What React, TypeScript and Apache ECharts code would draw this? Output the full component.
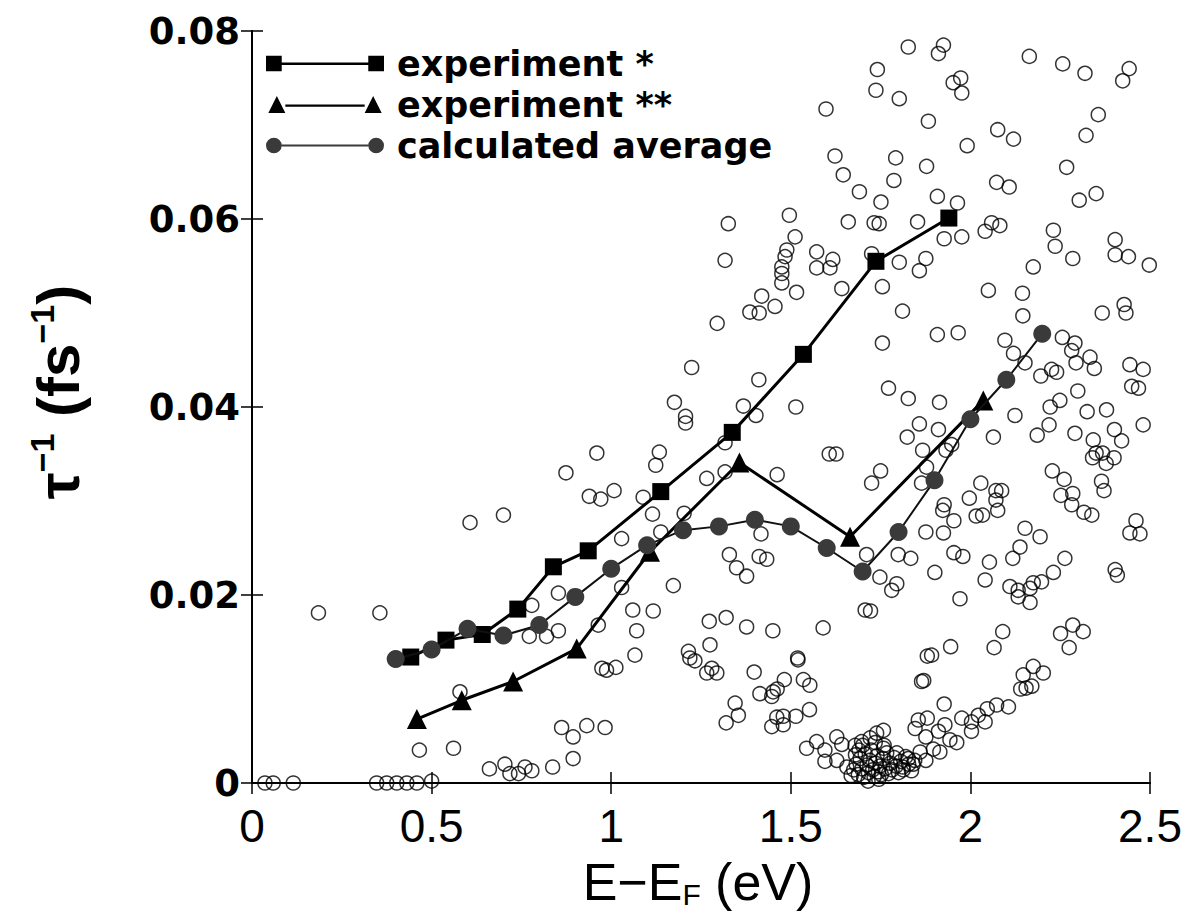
import React, { useEffect, useRef } from "react";
import * as echarts from "echarts";

// experiment * (squares)
const expOneX = [0.442, 0.540, 0.641, 0.740, 0.839, 0.936, 1.138, 1.337, 1.535, 1.737, 1.940];
const expOneY = [0.0134, 0.0152, 0.0158, 0.0185, 0.0230, 0.0247, 0.0310, 0.0373, 0.0456, 0.0555, 0.0601];

// experiment ** (triangles)
const expTwoX = [0.459, 0.584, 0.727, 0.904, 1.108, 1.357, 1.665, 2.036];
const expTwoY = [0.0068, 0.0088, 0.0108, 0.0143, 0.0246, 0.0341, 0.0262, 0.0407];

// calculated average (filled grey circles)
const calcX = [0.4, 0.5, 0.6, 0.7, 0.8, 0.9, 1.0, 1.1, 1.2, 1.3, 1.4, 1.5, 1.6, 1.7, 1.8, 1.9, 2.0, 2.1, 2.2];
const calcY = [0.0132, 0.0142, 0.0164, 0.0157, 0.0168, 0.0198, 0.0228, 0.0253, 0.0269, 0.0273, 0.0280, 0.0273, 0.0250, 0.0225, 0.0267, 0.0322, 0.0387, 0.0429, 0.0478];

// individual calculated lifetimes (open circles)
const scatterPoints: [number, number][] = [
  [1.598, 0.0717], [1.623, 0.0667], [1.646, 0.0647], [1.660, 0.0597], [1.496, 0.0604], [1.326, 0.0595],
  [1.512, 0.0581], [1.489, 0.0567], [1.317, 0.0556], [1.484, 0.0560], [1.572, 0.0565], [1.617, 0.0557],
  [1.475, 0.0549], [1.475, 0.0542], [1.572, 0.0548], [1.609, 0.0548],
  [1.475, 0.0532], [1.516, 0.0522], [1.642, 0.0526], [1.419, 0.0518], [1.456, 0.0507], [1.386, 0.0501],
  [1.412, 0.0500], [1.295, 0.0489], [1.224, 0.0442], [1.411, 0.0429], [1.176, 0.0405], [1.368, 0.0401],
  [1.403, 0.0391], [1.514, 0.0400], [1.207, 0.0390], [1.207, 0.0383], [1.317, 0.0362], [0.960, 0.0351],
  [1.134, 0.0352], [1.124, 0.0338], [1.607, 0.0350], [1.626, 0.0350], [0.874, 0.0330], [1.266, 0.0324],
  [1.317, 0.0331], [1.462, 0.0328], [0.939, 0.0305], [0.971, 0.0302], [1.008, 0.0311], [1.089, 0.0304],
  [1.115, 0.0286], [1.203, 0.0287], [1.138, 0.0267], [1.029, 0.0260], [1.417, 0.0265],
  [1.827, 0.0783], [1.925, 0.0785], [1.911, 0.0776], [2.164, 0.0773], [2.257, 0.0765], [2.319, 0.0755],
  [2.442, 0.0760], [2.424, 0.0747], [1.741, 0.0759], [1.737, 0.0737], [1.802, 0.0728], [1.952, 0.0745],
  [1.973, 0.0750], [1.976, 0.0734], [2.356, 0.0711], [2.322, 0.0689], [1.883, 0.0704], [2.076, 0.0695],
  [2.120, 0.0685], [1.991, 0.0678], [1.792, 0.0665], [1.878, 0.0656], [2.268, 0.0655], [1.787, 0.0641],
  [2.073, 0.0639], [2.108, 0.0634], [1.691, 0.0629], [1.751, 0.0618], [1.908, 0.0624], [1.964, 0.0617],
  [2.303, 0.0620], [2.350, 0.0627], [1.732, 0.0596], [1.746, 0.0595], [1.853, 0.0597], [2.059, 0.0596],
  [2.082, 0.0593], [2.041, 0.0587], [2.231, 0.0588], [2.236, 0.0571], [2.403, 0.0578], [2.403, 0.0562],
  [2.440, 0.0560], [2.285, 0.0558], [2.498, 0.0551], [1.927, 0.0579], [1.976, 0.0581], [1.725, 0.0563],
  [1.802, 0.0554], [1.876, 0.0558], [1.858, 0.0545], [2.175, 0.0549],
  [1.755, 0.0528], [2.050, 0.0524], [2.145, 0.0521], [1.811, 0.0502], [2.146, 0.0497], [2.367, 0.0500],
  [2.428, 0.0509], [2.433, 0.0500], [1.908, 0.0477], [1.966, 0.0479], [1.755, 0.0468], [2.096, 0.0471],
  [2.256, 0.0474], [2.291, 0.0468], [2.120, 0.0457], [2.152, 0.0447], [2.282, 0.0460], [2.294, 0.0447],
  [2.333, 0.0453], [2.345, 0.0441], [2.196, 0.0433], [2.226, 0.0440], [2.240, 0.0437], [2.444, 0.0445],
  [2.481, 0.0440], [2.449, 0.0422], [2.468, 0.0420], [1.772, 0.0420], [1.827, 0.0409], [1.914, 0.0405],
  [2.299, 0.0417], [2.222, 0.0400], [2.249, 0.0407], [2.325, 0.0395], [2.379, 0.0397], [2.481, 0.0381],
  [2.124, 0.0391], [1.858, 0.0382], [1.824, 0.0368], [1.911, 0.0376], [2.064, 0.0368], [2.186, 0.0370],
  [2.219, 0.0381], [2.291, 0.0372], [2.401, 0.0376], [2.342, 0.0365], [2.421, 0.0364], [1.867, 0.0354],
  [1.932, 0.0354], [1.948, 0.0360], [2.340, 0.0346], [2.350, 0.0351], [2.368, 0.0351], [2.378, 0.0340],
  [2.400, 0.0346], [1.878, 0.0336], [1.750, 0.0332], [1.725, 0.0319], [1.864, 0.0319], [2.228, 0.0332],
  [2.261, 0.0323], [2.365, 0.0321], [2.372, 0.0311], [2.029, 0.0319], [1.997, 0.0303], [2.071, 0.0311],
  [2.087, 0.0311], [2.071, 0.0301], [1.927, 0.0296], [1.923, 0.0290], [1.954, 0.0279], [2.016, 0.0284],
  [2.034, 0.0285], [2.076, 0.0290], [2.252, 0.0306], [2.285, 0.0308], [2.282, 0.0296], [2.316, 0.0288],
  [2.338, 0.0285], [1.876, 0.0267], [1.925, 0.0266], [2.152, 0.0271], [2.194, 0.0262], [2.461, 0.0279],
  [2.444, 0.0266], [2.472, 0.0265],
  [1.711, 0.0243], [1.799, 0.0243], [1.834, 0.0239], [1.954, 0.0245], [1.979, 0.0241], [1.901, 0.0224],
  [1.748, 0.0219], [1.795, 0.0212], [1.781, 0.0205], [2.053, 0.0235], [2.118, 0.0239], [2.138, 0.0251],
  [2.263, 0.0239], [2.231, 0.0224], [2.041, 0.0216], [1.971, 0.0196], [2.110, 0.0209], [2.133, 0.0205],
  [2.166, 0.0207], [2.133, 0.0198], [2.166, 0.0192], [2.198, 0.0214], [2.175, 0.0213], [2.403, 0.0227],
  [2.409, 0.0221], [1.707, 0.0184], [1.722, 0.0183], [2.090, 0.0161], [2.066, 0.0144], [2.251, 0.0159],
  [2.285, 0.0168], [2.314, 0.0161], [2.275, 0.0144], [1.945, 0.0145], [1.880, 0.0135], [1.892, 0.0136],
  [1.864, 0.0108], [1.870, 0.0109], [2.175, 0.0124], [2.203, 0.0117], [2.147, 0.0115], [2.140, 0.0100],
  [2.171, 0.0103], [2.155, 0.0101], [1.927, 0.0084], [1.976, 0.0069], [2.003, 0.0065], [2.022, 0.0072],
  [2.041, 0.0065], [2.047, 0.0079], [2.073, 0.0083], [2.106, 0.0081], [2.003, 0.0055], [1.855, 0.0067],
  [1.880, 0.0069], [1.846, 0.0058], [1.876, 0.0049], [1.911, 0.0055], [1.929, 0.0062], [1.897, 0.0036],
  [1.915, 0.0033], [1.943, 0.0046], [1.962, 0.0043], [1.860, 0.0033], [1.876, 0.0024], [1.758, 0.0056],
  [1.739, 0.0053], [1.721, 0.0048], [1.697, 0.0044], [1.679, 0.0040], [1.758, 0.0037], [1.795, 0.0032],
  [1.827, 0.0026], [1.841, 0.0020], [1.813, 0.0014],
  [1.329, 0.0243], [1.349, 0.0229], [1.377, 0.0220], [1.412, 0.0241], [1.433, 0.0238], [1.173, 0.0210],
  [0.853, 0.0202], [1.029, 0.0208], [1.060, 0.0184], [1.117, 0.0183], [1.071, 0.0162], [0.964, 0.0168],
  [0.853, 0.0162], [0.820, 0.0156], [1.066, 0.0136], [1.273, 0.0172], [1.320, 0.0176], [1.377, 0.0166],
  [1.450, 0.0162], [1.590, 0.0165], [1.275, 0.0147], [1.215, 0.0140], [1.219, 0.0133], [1.233, 0.0130],
  [0.974, 0.0122], [0.987, 0.0120], [1.013, 0.0123], [1.266, 0.0117], [1.280, 0.0122], [1.294, 0.0117],
  [1.398, 0.0118], [1.519, 0.0133], [1.520, 0.0131], [1.535, 0.0110], [1.553, 0.0104], [1.482, 0.0110],
  [1.462, 0.0100], [1.451, 0.0097], [1.414, 0.0095], [1.447, 0.0092], [1.345, 0.0085], [1.354, 0.0072],
  [1.320, 0.0064], [1.552, 0.0078], [1.461, 0.0070], [1.479, 0.0071], [1.514, 0.0071], [1.447, 0.0060],
  [1.479, 0.0062], [0.932, 0.0061], [0.862, 0.0059], [0.894, 0.0049], [0.983, 0.0059], [0.894, 0.0026],
  [0.837, 0.0017], [1.544, 0.0037], [1.572, 0.0044], [1.595, 0.0035], [1.628, 0.0049], [1.642, 0.0041],
  [1.595, 0.0023], [1.628, 0.0024], [1.656, 0.0017],
  [0.185, 0.0181], [0.356, 0.0181], [0.779, 0.0189], [0.772, 0.0156], [0.579, 0.0097], [0.466, 0.0035],
  [0.561, 0.0037], [0.661, 0.0015], [0.704, 0.0020], [0.718, 0.0010], [0.742, 0.0010], [0.760, 0.0017],
  [0.779, 0.0013], [0.036, 0.0], [0.059, 0.0], [0.115, 0.0], [0.347, 0.0], [0.375, 0.0], [0.403, 0.0],
  [0.431, 0.0], [0.459, 0.0], [0.500, 0.0002], [0.607, 0.0277], [0.700, 0.0285],
  [1.668, 0.0008], [1.675, 0.0014], [1.682, 0.0020], [1.688, 0.0009], [1.693, 0.0026], [1.698, 0.0015],
  [1.703, 0.0006], [1.707, 0.0031], [1.712, 0.0019], [1.716, 0.0011], [1.720, 0.0024], [1.724, 0.0035],
  [1.728, 0.0014], [1.732, 0.0007], [1.736, 0.0021], [1.740, 0.0029], [1.744, 0.0012], [1.748, 0.0018],
  [1.752, 0.0009], [1.757, 0.0026], [1.762, 0.0015], [1.767, 0.0032], [1.772, 0.0010], [1.777, 0.0021],
  [1.782, 0.0014], [1.788, 0.0027], [1.793, 0.0018], [1.800, 0.0011], [1.806, 0.0023], [1.812, 0.0017],
  [1.820, 0.0028], [1.828, 0.0020], [1.836, 0.0013], [1.845, 0.0024], [1.700, 0.0040], [1.690, 0.0035],
  [1.735, 0.0043], [1.680, 0.0030], [1.760, 0.0040], [1.715, 0.0002], [1.745, 0.0004],
];

const xTicks = [0, 0.5, 1, 1.5, 2, 2.5];
const yTicks = [0, 0.02, 0.04, 0.06, 0.08];

const zip = (xs: number[], ys: number[]) => xs.map((x, i) => [x, ys[i]]);

export default function App() {
  const ref = useRef<HTMLDivElement>(null);
  useEffect(() => {
    if (!ref.current) return;
    const chart = echarts.init(ref.current, null, { renderer: "svg" });
    const axisLine = { show: true, lineStyle: { color: "#000", width: 2 } };
    const tick = { show: true, inside: true, length: 11, lineStyle: { color: "#000", width: 1.5 } };
    const grid = { left: 252, right: 40, top: 31, bottom: 137 };
    const sqIcon = "path://M0,0h16v16h-16z M16,7h88v2.5h-88z M104,0h16v16h-16z";
    const triIcon = "path://M0,18L9,0L18,18z M18,9h84v2.5h-84z M102,18L111,0L120,18z";
    const cirIcon =
      "path://M0,8a8,8 0 1,0 16,0a8,8 0 1,0 -16,0z M16,7h88v2h-88z M104,8a8,8 0 1,0 16,0a8,8 0 1,0 -16,0z";
    chart.setOption({
      animation: false,
      backgroundColor: "#fff",
      grid,
      legend: {
        orient: "vertical",
        left: 261,
        top: 41,
        itemWidth: 118,
        itemHeight: 17,
        itemGap: 6,
        textStyle: {
          fontFamily: "DejaVu Sans",
          fontWeight: "bold",
          fontSize: 35,
          color: "#000",
          padding: [0, 0, 0, 8],
        },
        data: [
          { name: "experiment *", icon: sqIcon },
          { name: "experiment **", icon: triIcon },
          { name: "calculated average", icon: cirIcon },
        ],
      },
      xAxis: [
        {
          type: "value",
          min: xTicks[0],
          max: xTicks[xTicks.length - 1],
          interval: 0.5,
          axisLine,
          axisTick: tick,
          splitLine: { show: false },
          axisLabel: {
            margin: 20,
            fontFamily: "Liberation Sans",
            fontSize: 46,
            color: "#000",
            formatter: (v: number) => String(v),
          },
        },
        {
          type: "value",
          position: "top",
          min: xTicks[0],
          max: xTicks[xTicks.length - 1],
          interval: 0.5,
          axisLine,
          axisTick: tick,
          splitLine: { show: false },
          axisLabel: { show: false },
        },
      ],
      yAxis: [
        {
          type: "value",
          min: yTicks[0],
          max: yTicks[yTicks.length - 1],
          interval: 0.02,
          axisLine,
          axisTick: tick,
          splitLine: { show: false },
          axisLabel: {
            margin: 12,
            fontFamily: "DejaVu Sans",
            fontWeight: "bold",
            fontSize: 37,
            color: "#000",
            formatter: (v: number) => (v === 0 ? "0" : v.toFixed(2)),
          },
        },
        {
          type: "value",
          position: "right",
          min: yTicks[0],
          max: yTicks[yTicks.length - 1],
          interval: 0.02,
          axisLine,
          axisTick: tick,
          splitLine: { show: false },
          axisLabel: { show: false },
        },
      ],
      graphic: [
        {
          type: "text",
          x: 698,
          y: 882,
          style: {
            text: "{a|E−E}{s|F}{a| (eV)}",
            textAlign: "center",
            textVerticalAlign: "middle",
            fill: "#000",
            rich: {
              a: { fontFamily: "Liberation Sans", fontSize: 52, fill: "#000" },
              s: { fontFamily: "Liberation Sans", fontSize: 30, fill: "#000", padding: [24, 0, 0, 0] },
            },
          },
        },
        {
          type: "text",
          x: 58,
          y: 392,
          rotation: Math.PI / 2,
          style: {
            text: "{a|τ}{s|−1}{a| (fs}{s|−1}{a|)}",
            textAlign: "center",
            textVerticalAlign: "middle",
            fill: "#000",
            rich: {
              a: { fontFamily: "Liberation Sans", fontWeight: "bold", fontSize: 60, fill: "#000" },
              s: { fontFamily: "Liberation Sans", fontWeight: "bold", fontSize: 34, fill: "#000", padding: [0, 0, 32, 0] },
            },
          },
        },
      ],
      series: [
        {
          name: "calculated",
          type: "scatter",
          data: scatterPoints,
          symbol: "circle",
          symbolSize: 14,
          itemStyle: { color: "rgba(0,0,0,0)", borderColor: "#000", borderWidth: 1.5 },
          z: 1,
        },
        {
          name: "experiment *",
          type: "line",
          data: zip(expOneX, expOneY),
          symbol: "rect",
          symbolSize: 17,
          itemStyle: { color: "#000" },
          lineStyle: { color: "#000", width: 3 },
          z: 3,
        },
        {
          name: "experiment **",
          type: "line",
          data: zip(expTwoX, expTwoY),
          symbol: "triangle",
          symbolSize: 20,
          itemStyle: { color: "#000" },
          lineStyle: { color: "#000", width: 3 },
          z: 3,
        },
        {
          name: "calculated average",
          type: "line",
          data: zip(calcX, calcY),
          symbol: "circle",
          symbolSize: 18,
          itemStyle: { color: "#3a3a3a" },
          lineStyle: { color: "#111", width: 2 },
          z: 4,
        },
      ],
    });
    return () => chart.dispose();
  }, []);
  return <div ref={ref} style={{ position: "fixed", left: 0, top: 0, width: 1190, height: 920 }} />;
}
